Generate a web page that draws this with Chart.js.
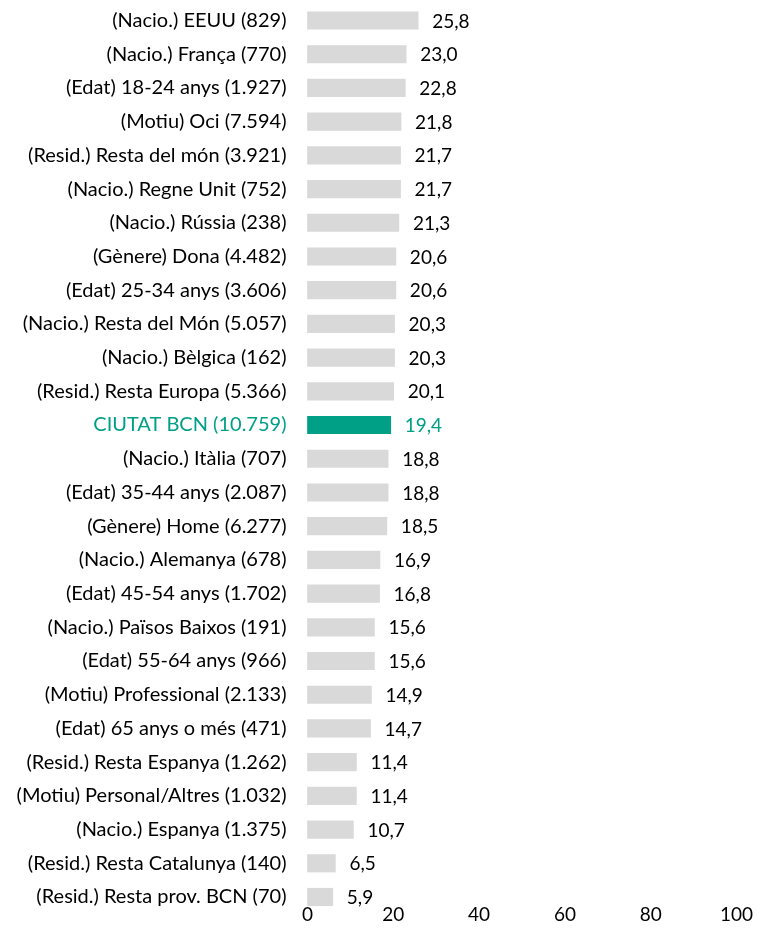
<!DOCTYPE html>
<html lang="en">
<head>
    <meta charset="UTF-8">
    <title>Horizontal bars</title>
    <script src="https://cdn.jsdelivr.net/npm/chart.js"></script>
    <style>
        html, body { margin: 0; padding: 0; background: #fff; }
        #wrap { position: relative; width: 757px; height: 950px; }
    </style>
</head>
<body>
    <div id="wrap"><canvas id="barChart"></canvas></div>

    <script>
        // Categories (top to bottom) and values
        const categories = [
            "(Nacio.) EEUU (829)",
            "(Nacio.) França (770)",
            "(Edat) 18-24 anys (1.927)",
            "(Motiu) Oci (7.594)",
            "(Resid.) Resta del món (3.921)",
            "(Nacio.) Regne Unit (752)",
            "(Nacio.) Rússia (238)",
            "(Gènere) Dona (4.482)",
            "(Edat) 25-34 anys (3.606)",
            "(Nacio.) Resta del Món (5.057)",
            "(Nacio.) Bèlgica (162)",
            "(Resid.) Resta Europa (5.366)",
            "CIUTAT BCN (10.759)",
            "(Nacio.) Itàlia (707)",
            "(Edat) 35-44 anys (2.087)",
            "(Gènere) Home (6.277)",
            "(Nacio.) Alemanya (678)",
            "(Edat) 45-54 anys (1.702)",
            "(Nacio.) Països Baixos (191)",
            "(Edat) 55-64 anys (966)",
            "(Motiu) Professional (2.133)",
            "(Edat) 65 anys o més (471)",
            "(Resid.) Resta Espanya (1.262)",
            "(Motiu) Personal/Altres (1.032)",
            "(Nacio.) Espanya (1.375)",
            "(Resid.) Resta Catalunya (140)",
            "(Resid.) Resta prov. BCN (70)"
        ];
        const values = [
            25.8, 23.0, 22.8, 21.8, 21.7, 21.7, 21.3, 20.6, 20.6, 20.3, 20.3, 20.1, 19.4,
            18.8, 18.8, 18.5, 16.9, 16.8, 15.6, 15.6, 14.9, 14.7, 11.4, 11.4, 10.7, 6.5, 5.9
        ];
        const highlight = "CIUTAT BCN (10.759)";
        const xTicks = [0, 20, 40, 60, 80, 100];

        const GREY = "#d9d9d9";
        const TEAL = "#00a086";
        const FONT = "Lato";
        const SIZE = 19;

        const isHi = i => categories[i] === highlight;

        // value labels to the right of each bar
        const valueLabels = {
            id: "valueLabels",
            afterDatasetsDraw(chart) {
                const ctx = chart.ctx;
                const meta = chart.getDatasetMeta(0);
                ctx.save();
                ctx.font = SIZE + "px " + FONT;
                ctx.textAlign = "left";
                ctx.textBaseline = "middle";
                meta.data.forEach((bar, i) => {
                    ctx.fillStyle = isHi(i) ? TEAL : "#000";
                    ctx.fillText(values[i].toFixed(1).replace(".", ","), bar.x + 14, bar.y + 1);
                });
                ctx.restore();
            }
        };

        new Chart(document.getElementById("barChart"), {
            type: "bar",
            data: {
                labels: categories,
                datasets: [{
                    data: values,
                    backgroundColor: categories.map((c, i) => isHi(i) ? TEAL : GREY),
                    borderWidth: 0,
                    barThickness: 17.5,
                    clip: false
                }]
            },
            options: {
                indexAxis: "y",
                responsive: true,
                maintainAspectRatio: false,
                animation: false,
                layout: { padding: { top: 20.5, right: 20.5, bottom: 24.5, left: 0 } },
                plugins: {
                    legend: { display: false },
                    tooltip: { enabled: false }
                },
                scales: {
                    x: {
                        min: 0,
                        max: 100,
                        afterBuildTicks: s => { s.ticks = xTicks.map(v => ({ value: v })); },
                        grid: { display: false },
                        border: { display: false },
                        ticks: {
                            padding: -4,
                            maxRotation: 0,
                            color: "#000",
                            font: { family: FONT, size: SIZE, lineHeight: 1.5 }
                        }
                    },
                    y: {
                        offset: false,
                        afterFit: s => { s.width = 307.5; },
                        // invisible tick marks give the 20px gap between labels and bars
                        grid: {
                            display: true,
                            drawOnChartArea: false,
                            drawTicks: true,
                            tickLength: 21,
                            color: "rgba(0,0,0,0)"
                        },
                        border: { display: false },
                        ticks: {
                            padding: 0,
                            autoSkip: false,
                            color: c => isHi(c.index) ? TEAL : "#000",
                            font: { family: FONT, size: 20 }
                        }
                    }
                }
            },
            plugins: [valueLabels]
        });
    </script>
</body>
</html>
